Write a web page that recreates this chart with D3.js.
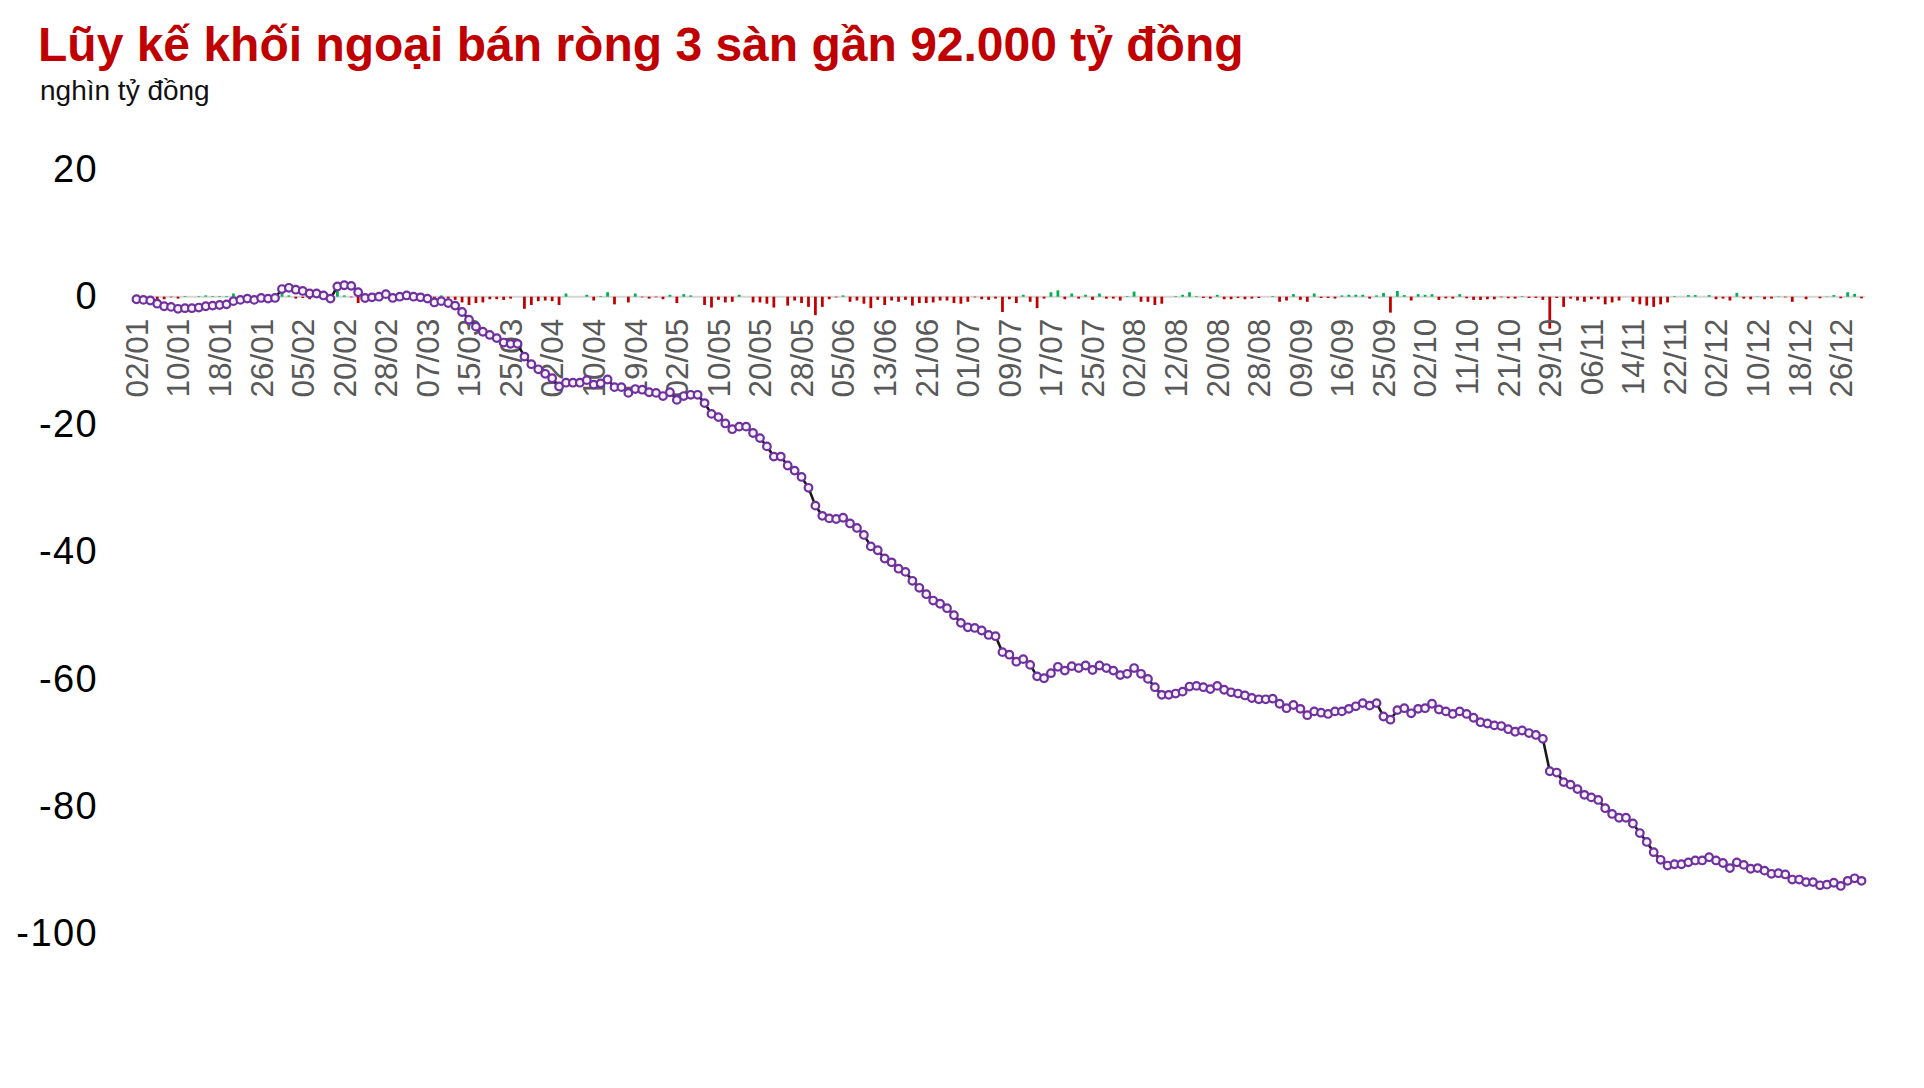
<!DOCTYPE html>
<html>
<head>
<meta charset="utf-8">
<script src="https://cdn.jsdelivr.net/npm/d3@7"></script>
<style>
  body { margin: 0; background: #ffffff; }
  svg { display: block; font-family: "Liberation Sans", Arial, Helvetica, sans-serif; }
</style>
</head>
<body>
<svg id="chart" width="1924" height="1088"></svg>
<script>
// ---------------- DATA ----------------
const titleText = "Lũy kế khối ngoại bán ròng 3 sàn gần 92.000 tỷ đồng";
const unitText = "nghìn tỷ đồng";

// Trading days 2024 (dd/mm)
const categories = [
  "02/01","03/01","04/01","05/01","08/01","09/01","10/01","11/01","12/01","15/01","16/01","17/01","18/01","19/01","22/01","23/01","24/01","25/01","26/01","29/01","30/01","31/01",
  "01/02","02/02","05/02","06/02","07/02","15/02","16/02","19/02","20/02","21/02","22/02","23/02","26/02","27/02","28/02","29/02",
  "01/03","04/03","05/03","06/03","07/03","08/03","11/03","12/03","13/03","14/03","15/03","18/03","19/03","20/03","21/03","22/03","25/03","26/03","27/03","28/03","29/03",
  "01/04","02/04","03/04","04/04","05/04","08/04","09/04","10/04","11/04","12/04","15/04","16/04","17/04","19/04","22/04","23/04","24/04","25/04","26/04",
  "02/05","03/05","06/05","07/05","08/05","09/05","10/05","13/05","14/05","15/05","16/05","17/05","20/05","21/05","22/05","23/05","24/05","27/05","28/05","29/05","30/05","31/05",
  "03/06","04/06","05/06","06/06","07/06","10/06","11/06","12/06","13/06","14/06","17/06","18/06","19/06","20/06","21/06","24/06","25/06","26/06","27/06","28/06",
  "01/07","02/07","03/07","04/07","05/07","08/07","09/07","10/07","11/07","12/07","15/07","16/07","17/07","18/07","19/07","22/07","23/07","24/07","25/07","26/07","29/07","30/07","31/07",
  "01/08","02/08","05/08","06/08","07/08","08/08","09/08","12/08","13/08","14/08","15/08","16/08","19/08","20/08","21/08","22/08","23/08","26/08","27/08","28/08","29/08","30/08",
  "04/09","05/09","06/09","09/09","10/09","11/09","12/09","13/09","16/09","17/09","18/09","19/09","20/09","23/09","24/09","25/09","26/09","27/09","30/09",
  "01/10","02/10","03/10","04/10","07/10","08/10","09/10","10/10","11/10","14/10","15/10","16/10","17/10","18/10","21/10","22/10","23/10","24/10","25/10","28/10","29/10","30/10","31/10",
  "01/11","04/11","05/11","06/11","07/11","08/11","11/11","12/11","13/11","14/11","15/11","18/11","19/11","20/11","21/11","22/11","25/11","26/11","27/11","28/11","29/11",
  "02/12","03/12","04/12","05/12","06/12","09/12","10/12","11/12","12/12","13/12","16/12","17/12","18/12","19/12","20/12","23/12","24/12","25/12","26/12","27/12","30/12","31/12"
];

// Labels shown on the category axis (one every 6 sessions)
const tickLabels = [
  "02/01","10/01","18/01","26/01","05/02","20/02","28/02","07/03","15/03","25/03",
  "02/04","10/04","19/04","02/05","10/05","20/05","28/05","05/06","13/06","21/06",
  "01/07","09/07","17/07","25/07","02/08","12/08","20/08","28/08","09/09","16/09",
  "25/09","02/10","11/10","21/10","29/10","06/11","14/11","22/11","02/12","10/12",
  "18/12","26/12"
];
const tickEvery = 6;

// Daily net buy/sell (nghìn tỷ đồng) – bars
const netDaily = [
  -0.4,-0.1,-0.1,-0.5,-0.4,-0.1,-0.3,0.1,0.0,0.1,
  0.2,0.1,0.1,0.1,0.5,0.2,0.2,-0.2,0.3,-0.1,
  0.1,1.4,0.2,-0.3,-0.2,-0.4,0.0,-0.3,-0.5,1.9,
  0.2,-0.1,-1.0,-0.9,0.1,0.1,0.4,-0.6,0.2,0.2,
  -0.2,-0.1,-0.2,-0.6,0.2,-0.3,-0.5,-0.9,-1.3,-1.0,
  -0.9,-0.4,-0.4,-0.5,-0.3,0.0,-1.9,-1.3,-0.7,-0.6,
  -0.7,-1.3,0.5,0.0,0.0,0.3,-0.6,0.1,0.7,-1.2,
  0.0,-0.9,0.5,-0.1,-0.3,-0.1,-0.4,0.3,-1.0,0.4,
  0.2,0.0,-1.3,-1.7,-0.5,-0.9,-0.8,0.3,0.0,-0.9,
  -0.9,-1.1,-1.7,0.0,-1.4,-0.6,-1.0,-1.6,-2.9,-1.6,
  -0.4,-0.1,0.2,-0.8,-0.6,-1.1,-1.8,-0.5,-1.3,-0.6,
  -0.8,-0.5,-1.4,-1.0,-1.0,-0.9,-0.6,-0.6,-1.0,-1.1,
  -0.8,-0.1,-0.4,-0.5,-0.3,-2.4,-0.4,-1.0,0.3,-0.8,
  -1.8,-0.3,0.7,1.0,-0.4,0.5,-0.3,0.3,-0.5,0.5,
  -0.3,-0.3,-0.6,0.1,0.8,-0.8,-0.8,-1.3,-1.1,0.0,
  0.1,0.3,0.7,0.1,-0.2,-0.3,0.3,-0.4,-0.4,-0.2,
  -0.4,-0.3,-0.2,0.0,0.1,-0.8,-0.6,0.4,-0.5,-0.8,
  0.5,-0.2,-0.2,-0.3,0.2,0.3,0.3,0.3,-0.3,0.2,
  0.6,-2.5,0.9,0.25,-0.6,0.4,0.3,0.4,-0.5,-0.25,
  -0.3,0.4,-0.25,-0.5,-0.5,-0.4,-0.4,-0.1,-0.25,-0.3,
  0.1,-0.2,-0.2,-0.5,-5.0,-0.2,-1.6,-0.3,-0.6,-0.8,
  -0.4,-0.4,-1.2,-0.9,-0.6,0.0,-0.8,-1.2,-1.4,-1.6,
  -1.2,-0.9,0.1,0.0,0.25,0.25,0.0,0.25,-0.4,-0.3,
  -0.6,0.6,-0.3,-0.4,0.05,-0.4,-0.3,0.05,-0.1,-0.8,
  0.0,-0.4,0.0,-0.25,0.05,0.25,-0.25,0.7,0.45,-0.25
];

// Cumulative net (nghìn tỷ đồng) – line
const cumulative = [
  -0.4,-0.5,-0.6,-1.1,-1.5,-1.6,-1.9,-1.8,-1.8,-1.7,
  -1.5,-1.4,-1.3,-1.2,-0.7,-0.5,-0.3,-0.5,-0.2,-0.3,
  -0.2,1.2,1.4,1.1,0.9,0.5,0.5,0.2,-0.3,1.6,
  1.8,1.7,0.7,-0.2,-0.1,0.0,0.4,-0.2,0.0,0.2,
  0.0,-0.1,-0.3,-0.9,-0.7,-1.0,-1.4,-2.4,-3.6,-4.7,
  -5.5,-6.0,-6.5,-7.2,-7.4,-7.4,-9.4,-10.6,-11.4,-12.1,
  -12.8,-14.1,-13.5,-13.5,-13.5,-13.1,-13.8,-13.6,-13.0,-14.2,
  -14.2,-15.1,-14.5,-14.6,-15.0,-15.1,-15.6,-15.0,-16.2,-15.6,
  -15.4,-15.4,-16.7,-18.4,-18.9,-19.9,-20.8,-20.4,-20.4,-21.4,
  -22.2,-23.5,-25.1,-25.1,-26.5,-27.3,-28.3,-30.0,-32.8,-34.4,
  -34.8,-34.9,-34.7,-35.6,-36.3,-37.4,-39.2,-39.8,-41.1,-41.7,
  -42.7,-43.2,-44.6,-45.7,-46.7,-47.7,-48.2,-48.9,-50.0,-51.2,
  -51.9,-52.0,-52.4,-53.1,-53.3,-55.8,-56.2,-57.3,-56.9,-57.8,
  -59.6,-59.9,-59.1,-58.1,-58.7,-58.0,-58.3,-57.9,-58.6,-57.9,
  -58.3,-58.7,-59.4,-59.2,-58.3,-59.2,-60.0,-61.3,-62.5,-62.5,
  -62.3,-62.0,-61.2,-61.1,-61.3,-61.6,-61.1,-61.7,-62.1,-62.3,
  -62.6,-63.0,-63.2,-63.2,-63.1,-63.9,-64.6,-64.1,-64.7,-65.7,
  -65.1,-65.3,-65.5,-65.1,-65.1,-64.7,-64.3,-63.8,-64.2,-63.8,
  -65.9,-66.4,-64.9,-64.6,-65.4,-64.7,-64.6,-63.9,-64.8,-65.1,
  -65.5,-65.1,-65.5,-66.1,-66.8,-67.0,-67.3,-67.4,-67.9,-68.3,
  -68.1,-68.5,-68.8,-69.4,-74.5,-74.7,-76.2,-76.6,-77.3,-78.2,
  -78.6,-79.0,-80.3,-81.2,-81.8,-81.8,-82.7,-84.2,-85.6,-87.2,
  -88.4,-89.3,-89.1,-89.1,-88.8,-88.5,-88.5,-88.0,-88.5,-88.9,
  -89.7,-88.8,-89.2,-89.8,-89.7,-90.1,-90.6,-90.5,-90.7,-91.5,
  -91.5,-91.9,-91.9,-92.4,-92.3,-92.0,-92.5,-91.7,-91.3,-91.7
];

const yTicks = [20, 0, -20, -40, -60, -80, -100];
const yDomain = [-100, 20];

// ---------------- DRAW ----------------
const svg = d3.select("#chart");

svg.append("rect").attr("width", 1924).attr("height", 1088).attr("fill", "#ffffff");

svg.append("text")
  .attr("x", 38).attr("y", 61)
  .attr("font-size", 48).attr("font-weight", "bold")
  .attr("fill", "#c00000")
  .text(titleText);

svg.append("text")
  .attr("x", 40).attr("y", 100)
  .attr("font-size", 28)
  .attr("fill", "#111111")
  .text(unitText);

const x = d3.scaleBand()
  .domain(categories)
  .range([133, 1865])
  .paddingInner(0.6)
  .paddingOuter(0.3);

const y = d3.scaleLinear()
  .domain(yDomain)
  .range([933.7, 169.3]);

const cx = d => x(d) + x.bandwidth() / 2;

// Y axis (labels only)
const yAxis = svg.append("g")
  .attr("transform", "translate(98,0)")
  .call(d3.axisLeft(y).tickValues(yTicks).tickSize(0).tickPadding(0).tickFormat(d => String(d)));
yAxis.select(".domain").remove();
yAxis.selectAll("text")
  .attr("font-size", 38)
  .attr("letter-spacing", 1.4)
  .attr("font-family", "'Liberation Sans', Arial, Helvetica, sans-serif")
  .attr("fill", "#000000");

// zero line
svg.append("line")
  .attr("x1", x.range()[0]).attr("x2", x.range()[1])
  .attr("y1", y(0)).attr("y2", y(0))
  .attr("stroke", "#d6d6d6").attr("stroke-width", 2);

// bars
svg.append("g").selectAll("rect")
  .data(netDaily)
  .join("rect")
  .attr("x", (d, i) => x(categories[i]))
  .attr("width", x.bandwidth())
  .attr("y", d => Math.min(y(0), y(d)))
  .attr("height", d => Math.abs(y(d) - y(0)))
  .attr("fill", d => d >= 0 ? "#00b050" : "#c00000");

// X axis: rotated category labels
const tickCats = categories.filter((c, i) => i % tickEvery === 0);
const xAxis = svg.append("g")
  .attr("transform", `translate(0,${y(0) + 22})`)
  .call(d3.axisBottom(x).tickValues(tickCats).tickSize(0).tickPadding(0)
    .tickFormat((c) => tickLabels[categories.indexOf(c) / tickEvery]));
xAxis.select(".domain").remove();
xAxis.selectAll("text")
  .attr("transform", "rotate(-90)")
  .attr("text-anchor", "end")
  .attr("x", 0).attr("y", 0)
  .attr("dy", "0.36em")
  .attr("font-size", 31.5)
  .attr("font-family", "'Liberation Sans', Arial, Helvetica, sans-serif")
  .attr("fill", "#595959");

// cumulative line
const line = d3.line()
  .x((d, i) => cx(categories[i]))
  .y(d => y(d));

svg.append("path")
  .datum(cumulative)
  .attr("d", line)
  .attr("fill", "none")
  .attr("stroke", "#1a1a1a")
  .attr("stroke-width", 2.6);

svg.append("g").selectAll("circle")
  .data(cumulative)
  .join("circle")
  .attr("cx", (d, i) => cx(categories[i]))
  .attr("cy", d => y(d))
  .attr("r", 3.8)
  .attr("fill", "#f2f2f2")
  .attr("stroke", "#7030a0")
  .attr("stroke-width", 2.2);
</script>
</body>
</html>
